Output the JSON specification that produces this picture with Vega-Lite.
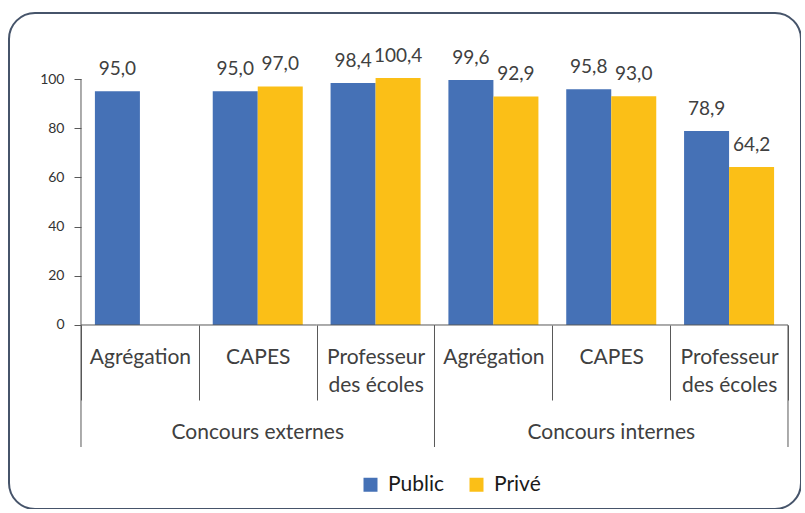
{
  "$schema": "https://vega.github.io/schema/vega-lite/v6.json",
  "width": 792,
  "height": 496,
  "autosize": {"type": "none"},
  "padding": {"left": 9, "top": 13, "right": 0, "bottom": 0},
  "background": "white",
  "config": {
    "font": "Lato",
    "view": {"stroke": "#46546a", "strokeWidth": 2, "cornerRadius": 26, "fill": "white"},
    "locale": {"number": {"decimal": ",", "thousands": " ", "grouping": [3], "currency": ["", " €"]}}
  },
  "data": {
    "values": [
      {"cat": "E|Agrégation", "groupe": "Concours externes", "serie": "Public", "valeur": 95.0},
      {"cat": "E|CAPES", "groupe": "Concours externes", "serie": "Public", "valeur": 95.0},
      {"cat": "E|CAPES", "groupe": "Concours externes", "serie": "Privé", "valeur": 97.0},
      {"cat": "E|Professeur/des écoles", "groupe": "Concours externes", "serie": "Public", "valeur": 98.4},
      {"cat": "E|Professeur/des écoles", "groupe": "Concours externes", "serie": "Privé", "valeur": 100.4},
      {"cat": "I|Agrégation", "groupe": "Concours internes", "serie": "Public", "valeur": 99.6},
      {"cat": "I|Agrégation", "groupe": "Concours internes", "serie": "Privé", "valeur": 92.9},
      {"cat": "I|CAPES", "groupe": "Concours internes", "serie": "Public", "valeur": 95.8},
      {"cat": "I|CAPES", "groupe": "Concours internes", "serie": "Privé", "valeur": 93.0},
      {"cat": "I|Professeur/des écoles", "groupe": "Concours internes", "serie": "Public", "valeur": 78.9},
      {"cat": "I|Professeur/des écoles", "groupe": "Concours internes", "serie": "Privé", "valeur": 64.2}
    ]
  },
  "layer": [
    {
      "mark": {"type": "bar"},
      "encoding": {
        "x": {
          "field": "cat", "type": "nominal", "sort": null,
          "scale": {
            "domain": ["E|Agrégation", "E|CAPES", "E|Professeur/des écoles", "I|Agrégation", "I|CAPES", "I|Professeur/des écoles"],
            "paddingInner": 0, "paddingOuter": 0.3607, "align": 0.847
          },
          "axis": {
            "title": null, "orient": "bottom", "offset": -184, "domain": false,
            "tickBand": "extent", "tickSize": 75, "tickColor": "#595959", "tickWidth": 1,
            "labelPadding": -54, "labelFontSize": 21, "labelColor": "#404040", "labelLineHeight": 28,
            "labelAngle": 0, "labelOverlap": false, "labelBound": false, "labelFlush": false,
            "labelExpr": "isString(datum.value) && indexof(datum.value, '|') >= 0 ? split(split(datum.value, '|')[1], '/') : ''"
          }
        },
        "xOffset": {
          "field": "serie", "type": "nominal",
          "scale": {"domain": ["Public", "Privé"], "paddingInner": 0, "paddingOuter": 0.309}
        },
        "y": {
          "field": "valeur", "type": "quantitative",
          "scale": {"domain": [-74.8, 126.83], "nice": false, "zero": false},
          "axis": {
            "title": null, "values": [0, 20, 40, 60, 80, 100], "domain": false, "grid": false,
            "offset": -72, "tickSize": 7, "tickColor": "#595959",
            "labelFontSize": 14, "labelColor": "#333333", "labelPadding": 10
          }
        },
        "color": {
          "field": "serie", "type": "nominal",
          "scale": {"domain": ["Public", "Privé"], "range": ["#4571b6", "#fbbf17"]},
          "legend": {
            "orient": "none", "legendX": 351, "legendY": 461, "direction": "horizontal",
            "title": null, "symbolType": "square", "symbolSize": 196, "symbolStrokeWidth": 0,
            "labelFontSize": 21, "labelColor": "#1a1a1a", "labelOffset": 7, "columnPadding": 21, "padding": 0
          }
        }
      }
    },
    {
      "mark": {"type": "text", "fontSize": 19, "color": "#404040", "baseline": "alphabetic", "dy": -16},
      "encoding": {
        "x": {"field": "cat", "type": "nominal"},
        "xOffset": {"field": "serie", "type": "nominal"},
        "y": {"field": "valeur", "type": "quantitative"},
        "text": {"field": "valeur", "type": "quantitative", "format": ".1f"}
      }
    },
    {
      "transform": [{"filter": "datum.serie == 'Public'"}],
      "mark": {"type": "rule", "color": "#595959", "strokeWidth": 1},
      "encoding": {
        "x": {"field": "cat", "type": "nominal", "bandPosition": 0},
        "x2": {"field": "cat", "bandPosition": 1},
        "y": {"datum": 0}
      }
    },
    {
      "transform": [{"filter": "datum.serie == 'Public' && datum.cat == 'E|Agrégation'"}],
      "mark": {"type": "rule", "color": "#595959", "strokeWidth": 1},
      "encoding": {
        "x": {"field": "cat", "type": "nominal", "bandPosition": 0},
        "y": {"datum": 100},
        "y2": {"datum": -49.6}
      }
    },
    {
      "transform": [{"filter": "datum.serie == 'Public' && datum.cat == 'I|Agrégation'"}],
      "mark": {"type": "rule", "color": "#595959", "strokeWidth": 1},
      "encoding": {
        "x": {"field": "cat", "type": "nominal", "bandPosition": 0},
        "y": {"datum": 0},
        "y2": {"datum": -49.6}
      }
    },
    {
      "transform": [{"filter": "datum.serie == 'Public' && datum.cat == 'I|Professeur/des écoles'"}],
      "mark": {"type": "rule", "color": "#595959", "strokeWidth": 1},
      "encoding": {
        "x": {"field": "cat", "type": "nominal", "bandPosition": 1},
        "y": {"datum": 0},
        "y2": {"datum": -49.6}
      }
    },
    {
      "transform": [{"filter": "datum.serie == 'Public' && indexof(datum.cat, 'CAPES') >= 0"}],
      "mark": {"type": "text", "fontSize": 21, "color": "#404040", "baseline": "alphabetic"},
      "encoding": {
        "x": {"field": "cat", "type": "nominal"},
        "y": {"datum": -46.3},
        "text": {"field": "groupe", "type": "nominal"}
      }
    }
  ]
}
